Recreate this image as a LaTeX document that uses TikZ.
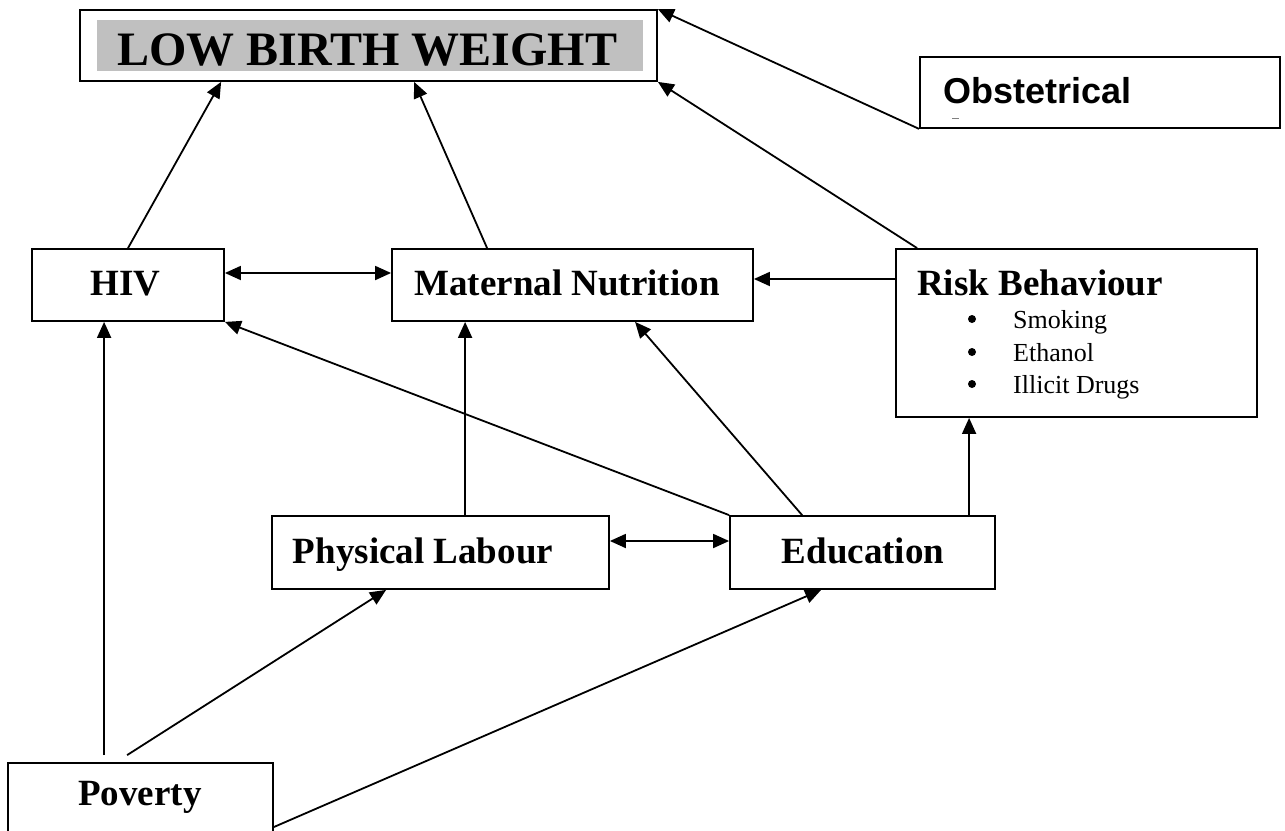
\documentclass[tikz,border=0pt]{standalone}
\usepackage{fontspec}
\setmainfont{Liberation Serif}
\newfontfamily\arialfont{Liberation Sans}
\usetikzlibrary{arrows.meta}
\definecolor{fillgray}{RGB}{192,192,192}
\begin{document}
\begin{tikzpicture}[x=1pt,y=-1pt,
  box/.style={draw, line width=1.8pt, rectangle, inner sep=0pt},
  lbl/.style={font=\bfseries\fontsize{37}{41}\selectfont, inner sep=0pt, anchor=base},
  item/.style={font=\fontsize{26}{30}\selectfont, inner sep=0pt, anchor=base west},
  conn/.style={line width=1.8pt, -{Triangle[length=16pt,width=14pt]}},
  dconn/.style={line width=1.8pt, {Triangle[length=16pt,width=14pt]}-{Triangle[length=16pt,width=14pt]}},
  plain/.style={line width=1.8pt}]
\useasboundingbox (0,0) rectangle (1285,830);
\clip (0,0) rectangle (1285,830);

% boxes
\node[box, minimum width=577pt, minimum height=71pt] (lbw) at (368.5,45.5) {};
\node[fill=fillgray, minimum width=546pt, minimum height=51pt, inner sep=0pt] (lbwfill) at (370,45.5) {};
\node[font=\bfseries\fontsize{48}{52}\selectfont, anchor=base, inner sep=0pt] (lbwtxt) at (367.5,65) {LOW BIRTH WEIGHT};

\node[box, minimum width=360pt, minimum height=71pt] (obs) at (1100,92.5) {};
\node[font=\arialfont\bfseries\fontsize{36}{40}\selectfont, anchor=base west, inner sep=0pt] (obstxt) at (943,103) {Obstetrical};
\draw[gray, line width=1pt] (952,118) -- (959,118);

\node[box, minimum width=192pt, minimum height=72pt] (hiv) at (128,285) {};
\node[lbl] (hivtxt) at (125.5,295) {HIV};

\node[box, minimum width=361pt, minimum height=72pt] (mn) at (572.5,285) {};
\node[lbl] (mntxt) at (567,295) {Maternal Nutrition};

\node[box, minimum width=361pt, minimum height=168pt] (rb) at (1076.5,333) {};
\node[lbl, anchor=base west] (rbtxt) at (917,295) {Risk Behaviour};
\fill (972,319) circle (4pt);
\fill (972,352) circle (4pt);
\fill (972,384) circle (4pt);
\node[item] (it1) at (1013,328) {Smoking};
\node[item] (it2) at (1013,361) {Ethanol};
\node[item] (it3) at (1013,393) {Illicit Drugs};

\node[box, minimum width=337pt, minimum height=73pt] (pl) at (440.5,552.5) {};
\node[lbl] (pltxt) at (423,563) {Physical Labour};

\node[box, minimum width=265pt, minimum height=73pt] (edu) at (862.5,552.5) {};
\node[lbl] (edutxt) at (863,563) {Education};

\node[box, minimum width=265pt, minimum height=87pt] (pov) at (140.5,806.5) {};
\node[lbl] (povtxt) at (140,805) {Poverty};

\coordinate (p1) at ([xshift=97pt,yshift=7pt]pov.north west);
\coordinate (p2) at ([xshift=120pt,yshift=7pt]pov.north west);

% connectors
\draw[conn] (hiv.north) -- ([xshift=142pt]lbw.south west);
\draw[conn] ([xshift=96pt]mn.north west) -- ([xshift=335pt]lbw.south west);
\draw[conn] ([xshift=22pt]rb.north west) -- (lbw.south east);
\draw[conn] (obs.south west) -- (lbw.north east);
\draw[dconn] ([yshift=12pt]hiv.east) -- ([yshift=12pt]mn.west);
\draw[conn] ([yshift=54pt]rb.west) -- ([yshift=6pt]mn.east);
\draw[dconn] ([yshift=11.5pt]pl.east) -- ([yshift=11.5pt]edu.west);
\draw[conn] ([xshift=194pt]pl.north west) -- ([xshift=74pt]mn.south west);
\draw[conn] ([xshift=73pt]edu.north west) -- ([xshift=244pt]mn.south west);
\draw[conn] (edu.north west) -- (hiv.south east);
\draw[conn] ([xshift=240pt]edu.north west) -- ([xshift=74pt]rb.south west);
\draw[conn] (p1) -- ([xshift=73pt]hiv.south west);
\draw[conn] (p2) -- ([xshift=115pt]pl.south west);
\draw[conn] ([yshift=-20.5pt]pov.east) -- ([xshift=92pt]edu.south west);
\end{tikzpicture}
\end{document}
